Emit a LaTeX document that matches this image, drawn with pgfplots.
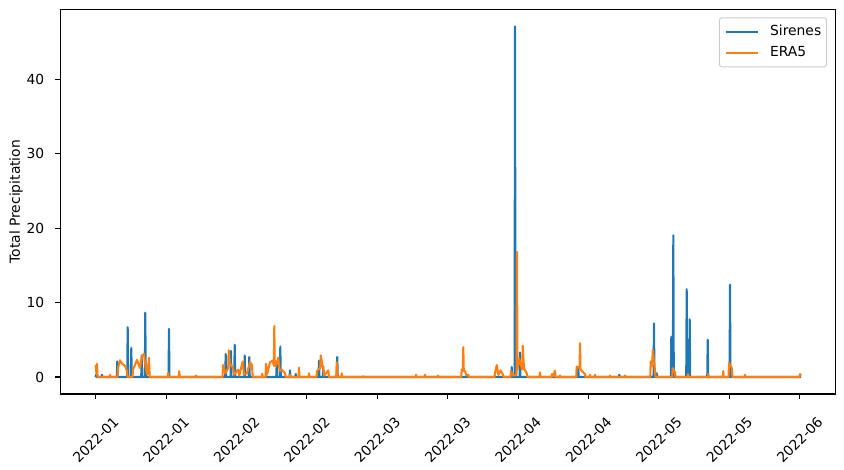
\documentclass[border=0pt]{standalone}
\usepackage{fontspec}
\setmainfont{DejaVu Sans}
\usepackage{pgfplots}
\pgfplotsset{compat=1.18}
\definecolor{mplblue}{HTML}{1F77B4}
\definecolor{mplorange}{HTML}{FF7F0E}
\begin{document}
\fontsize{13.9}{16.7}\selectfont
\begin{tikzpicture}[font=\fontsize{13.9}{16.7}\selectfont]
\useasboundingbox (-60.3bp,-76bp) rectangle (783.7bp,394bp);
\begin{axis}[
  at={(0,0)}, anchor=south west,
  scale only axis,
  width=775.4bp, height=384.7bp,
  xmin=-7.54, xmax=157.68,
  ymin=-2.284, ymax=49.41,
  axis line style={line width=1.1bp},
  tick style={line width=1.1bp, black},
  major tick length=4.86bp,
  tick align=outside,
  xtick pos=bottom, ytick pos=left,
  xtick={0,15,...,150},
  xticklabels={2022-01,2022-01,2022-02,2022-02,2022-03,2022-03,2022-04,2022-04,2022-05,2022-05,2022-06},
  ytick={0,10,20,30,40},
  /pgf/number format/assume math mode=true,
  tick label style={font=\fontsize{13.9}{16.7}\selectfont},
  xticklabel style={yshift=-41bp, rotate=45, anchor=center, inner sep=0pt},
  yticklabel style={xshift=-11bp, anchor=east, inner sep=0pt},
  every axis y label/.style={at={(axis description cs:-0.0571,0.5)}, rotate=90, anchor=center, font=\fontsize{13.9}{16.7}\selectfont},
  ylabel={Total Precipitation},
  legend cell align=left,
  legend style={at={(rel axis cs:1,1)}, anchor=north east, xshift=-8.7bp, yshift=-8bp,
    draw=black!20, line width=1bp, rounded corners=2.5bp, fill=white, fill opacity=0.8, text opacity=1,
    font=\fontsize{13.9}{16.7}\selectfont, inner xsep=5.3bp, inner ysep=7.5bp, row sep=7.6bp, column sep=11.6bp,
    nodes={inner xsep=0pt, inner ysep=0pt, text height=10bp, text depth=3.3bp}},
  legend image code/.code={\draw[#1] (0bp,0bp) -- (31.7bp,0bp);},
  every axis plot/.append style={line width=2.08bp, line join=round},
]
\addplot[mplblue] coordinates {
(0,0)
(0.05,0.3)(0.15,0)
(1.24,0)(1.34,0.3)(1.44,0)
(4.5,0)(4.6,2.1)(4.7,0)
(6.72,0)(6.82,6.7)(6.92,0)
(7.49,0)(7.59,3.9)(7.69,0)
(9.7,0)(9.8,2.9)(9.9,0)
(10.47,0)(10.57,8.65)(10.67,0)
(15.52,0)(15.62,6.45)(15.72,0)
(27.6,0)(27.7,3.1)(27.8,0)
(28.73,0)(28.83,3.5)(28.93,0)
(29.52,0)(29.62,4.35)(29.72,0)
(31.65,0)(31.75,2.9)(31.85,0)
(32.63,0)(32.73,2.7)(32.83,0)
(38.47,0)(38.57,1.8)(38.67,0)
(39.24,0)(39.34,4.1)(39.44,0)
(41.3,0)(41.4,0.9)(41.5,0)
(42.52,0)(42.62,0.4)(42.72,0)
(47.48,0)(47.58,2.2)(47.68,0)
(48.4,0)(48.5,1.4)(48.6,0)
(51.38,0)(51.48,2.7)(51.58,0)
(88.54,0)(88.64,1.35)(88.74,0)
(89.25,0)(89.35,47.1)(89.45,0)
(90.31,0)(90.41,3.3)(90.51,0)
(102.73,0)(102.83,1.2)(102.93,0)
(111.47,0)(111.57,0.3)(111.67,0)
(118.86,0)(118.96,7.2)(119.06,0)
(119.44,0)(119.54,0.5)(119.64,0)
(122.55,0)(122.65,5.4)(122.75,0)
(122.98,0)(123.08,19.05)(123.18,0)
(125.83,0)(125.93,11.8)(126.03,0)
(126.47,0)(126.57,7.75)(126.67,0)
(130.31,0)(130.41,5.0)(130.51,0)
(135.06,0)(135.16,12.4)(135.26,0)
(150.3,0)
};
\addlegendentry{Sirenes}
\addplot[mplorange] coordinates {
(0,1.6)(0.15,0.5)(0.28,1.8)(0.4,0)
(2.95,0)(3.05,0.3)(3.15,0)
(4.65,0)(4.75,1.2)(5.18,2.25)(5.6,1.8)(6.24,1.5)(6.67,0.8)(6.8,0)
(7.85,0)(7.95,1.0)(8.37,1.6)(8.8,2.3)(9.44,1.2)(9.87,2.8)(10.29,3.1)(10.72,1.0)(11.0,0.3)(11.36,2.6)(11.5,0)
(15.37,0)(15.47,0.55)(15.57,0)
(17.71,0)(17.81,0.77)(17.91,0)
(21.27,0)(21.37,0.2)(21.47,0)
(27.03,0)(27.13,1.6)(27.6,0.5)(28.24,1.2)(28.34,3.6)(28.62,1.8)(29.26,1.2)(29.5,0.3)(30.33,1.0)(30.6,0.2)(31.32,2.1)(31.6,0.3)(32.24,0.5)(32.88,2.0)(33.31,1.6)(33.45,0)
(35.4,0)(35.5,0.45)(35.6,0)
(36.19,0)(36.29,1.8)(36.5,0.3)(37.14,2.0)(37.72,2.2)(37.96,1.5)(38.06,6.85)(38.16,1.5)(38.42,1.5)(38.91,2.6)(39.2,0.8)(39.63,1.0)(40.34,0.5)(40.5,0)
(41.3,0)(41.4,0.3)(41.5,0)
(43.22,0)(43.32,1.26)(43.42,0)
(45.35,0)(45.45,0.5)(45.55,0)
(47.06,0)(47.16,0.8)(47.84,1.2)(47.94,2.9)(48.5,1.0)(48.7,0.2)(49.56,0.9)(49.7,0)
(51.25,0)(51.35,2.0)(51.5,0)
(52.32,0)(52.42,0.5)(52.52,0)
(56.86,0)(56.96,0.1)(57.06,0)
(68.15,0)(68.25,0.3)(68.35,0)
(70.07,0)(70.17,0.3)(70.27,0)
(72.84,0)(72.94,0.2)(73.04,0)
(77.89,0)(77.99,1.0)(78.23,1.0)(78.33,4.0)(78.43,0.8)(78.69,0.8)(79.0,0.2)(79.4,0.3)(79.5,0)
(84.98,0)(85.08,0.5)(85.45,1.6)(85.8,0.3)(86.3,0.9)(86.79,0.3)(86.9,0)
(88.39,0)(88.49,0.8)(88.9,0.2)(89.67,0.3)(89.77,16.8)(89.87,1.0)(90.2,2.5)(90.89,1.0)(90.99,4.2)(91.26,1.2)(91.9,0.4)(92.0,0)
(94.57,0)(94.67,0.6)(94.77,0)
(97.13,0)(97.23,0.4)(97.5,0.1)(97.87,0.85)(98.0,0)
(98.83,0)(98.93,0.2)(99.03,0)
(102.39,0)(102.49,1.4)(103.1,1.2)(103.2,4.55)(103.3,1.0)(103.62,0.8)(104.26,0.4)(104.36,0)
(105.23,0)(105.33,0.3)(105.43,0)
(106.29,0)(106.39,0.3)(106.49,0)
(109.49,0)(109.59,0.2)(109.69,0)
(112.69,0)(112.79,0.2)(112.89,0)
(118.16,0)(118.26,2.1)(118.59,1.5)(118.69,3.6)(119.18,0.8)(119.3,0)
(122.85,0)(122.95,1.2)(123.44,0.6)(123.55,0)
(126.11,0)(126.21,0.4)(126.31,0)
(130.44,0)(130.54,0.4)(130.64,0)
(133.63,0)(133.73,0.8)(133.83,0)
(134.85,0)(134.95,1.9)(135.53,1.2)(135.7,0)
(138.26,0)(138.36,0.3)(138.46,0)
(149.97,0)(150.07,0.4)(150.3,0.2)
};
\addlegendentry{ERA5}
\end{axis}
\end{tikzpicture}
\end{document}
